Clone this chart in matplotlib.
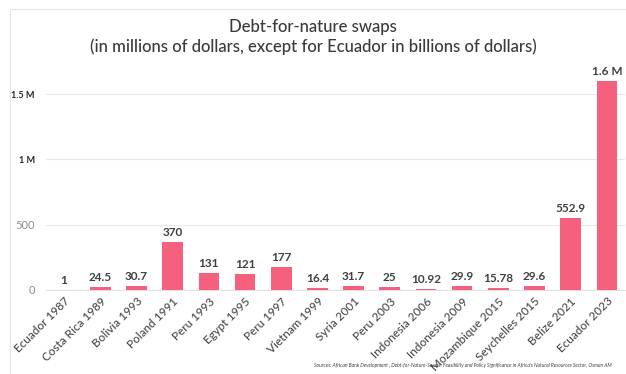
import matplotlib
matplotlib.use("Agg")
import matplotlib.pyplot as plt
from matplotlib.patches import Rectangle

categories = ["Ecuador 1987", "Costa Rica 1989", "Bolivia 1993", "Poland 1991", "Peru 1993",
              "Egypt 1995", "Peru 1997", "Vietnam 1999", "Syria 2001", "Peru 2003",
              "Indonesia 2006", "Indonesia 2009", "Mozambique 2015", "Seychelles 2015",
              "Belize 2021", "Ecuador 2023"]
values = [1, 24.5, 30.7, 370, 131, 121, 177, 16.4, 31.7, 25, 10.92, 29.9, 15.78, 29.6, 552.9, 1600]
value_labels = ["1", "24.5", "30.7", "370", "131", "121", "177", "16.4", "31.7", "25",
                "10.92", "29.9", "15.78", "29.6", "552.9", "1.6 M"]
yticks = [0, 500, 1000, 1500]
ytick_labels = ["0", "500", "1 M", "1.5 M"]

plt.rcParams['font.family'] = ['Lato', 'DejaVu Sans']

W, H = 626, 374
fig = plt.figure(figsize=(W / 100, H / 100), dpi=100)
fig.patch.set_facecolor("white")

# light frame
fig.patches.append(Rectangle((10 / W, -0.01), (W + 10) / W, (H - 9) / H + 0.01,
                             transform=fig.transFigure, fill=False,
                             edgecolor="#e6e6e6", linewidth=0.8))

ax = fig.add_axes([46 / W, 84 / H, 579 / W, 222 / H])
x = list(range(len(categories)))
ax.bar(x, values, width=0.57, color="#F5607C", zorder=3)
ax.set_xlim(-0.5, len(categories) - 0.5)
ax.set_ylim(0, 1700)

for xi, v, lab in zip(x, values, value_labels):
    ax.text(xi, v + 30, lab, ha="center", va="bottom", fontsize=8.5,
            fontweight="bold", color="#404040")

ax.set_yticks(yticks)
ax.set_yticklabels(ytick_labels)
for t, lab in zip(ax.get_yticklabels(), ytick_labels):
    if "M" in lab:
        t.set_fontweight("bold")
        t.set_color("#262626")
        t.set_fontsize(6.5)
    else:
        t.set_color("#8c8c8c")
        t.set_fontsize(8)
ax.tick_params(axis="y", length=0, pad=8)
ax.yaxis.grid(True, color="#e8e8e8", linewidth=0.8, zorder=0)
ax.set_xticks(x)
ax.set_xticklabels(categories, rotation=45, ha="right", rotation_mode="anchor",
                   fontsize=8.5, color="#4a4a4a", fontweight="medium")
ax.tick_params(axis="x", length=0, pad=4)
for s in ["top", "right", "left"]:
    ax.spines[s].set_visible(False)
ax.spines["bottom"].set_color("#e0e0e0")
ax.spines["bottom"].set_linewidth(0.8)

fig.text(0.5, 1 - 27 / H, "Debt-for-nature swaps", ha="center", va="center",
         fontsize=12, color="#3a3a3a", fontweight="medium")
fig.text(0.5, 1 - 47 / H, "(in millions of dollars, except for Ecuador in billions of dollars)",
         ha="center", va="center", fontsize=12, color="#3a3a3a", fontweight="medium")
fig.text(612 / W, 1 - 365 / H,
         "Sources: African Bank Development , Debt-for-Nature-Swaps: Feasibility and Policy "
         "Significance in Africa's Natural Resources Sector, Osman AM",
         ha="right", va="center", fontsize=3.6, style="italic", color="#404040")

fig.savefig("out.png", dpi=100, facecolor="white")
